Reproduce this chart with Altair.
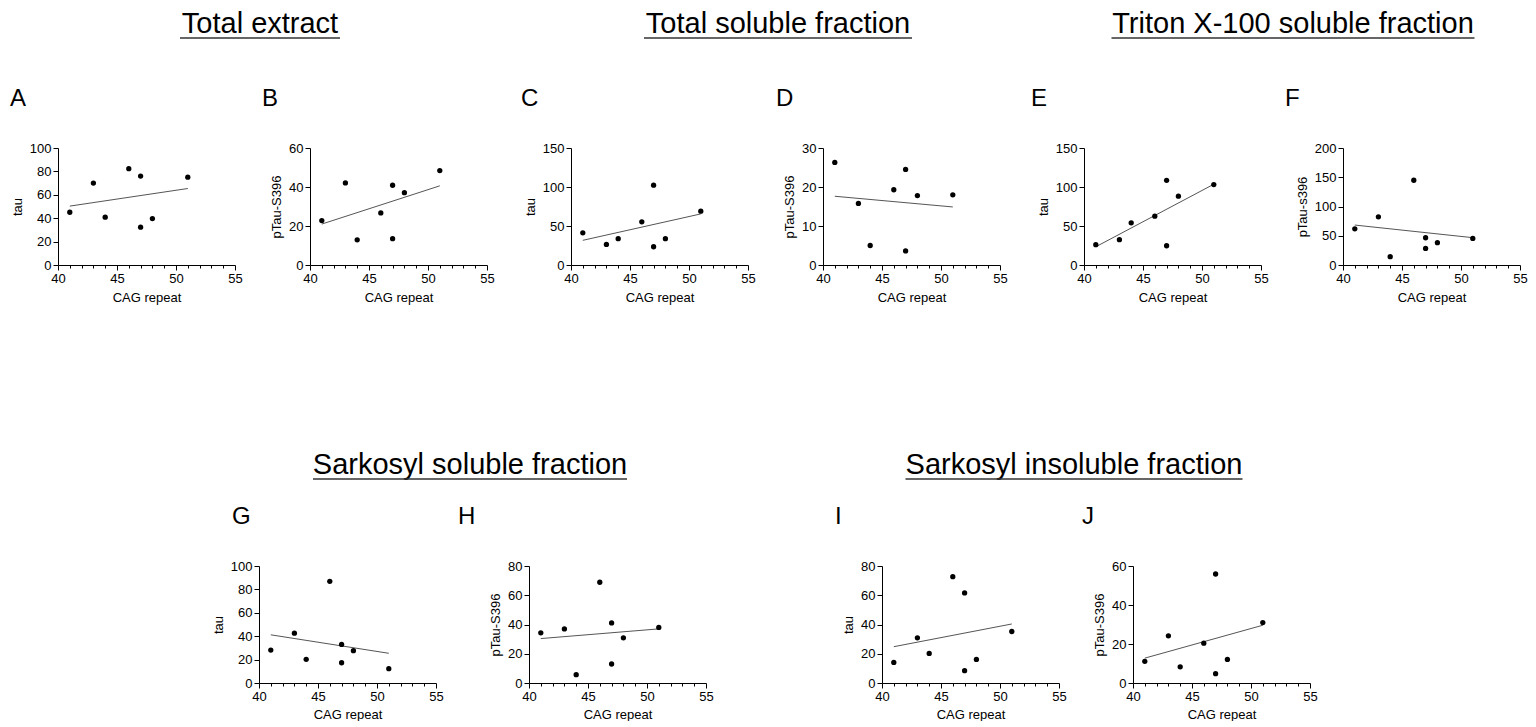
import altair as alt
import pandas as pd

# ---------------- data ----------------
cag = [41, 43, 44, 46, 47, 47, 48, 51]

a_tau = [45.1, 70.0, 40.9, 82.3, 76.0, 32.3, 39.7, 75.1]
b_ptau = [22.8, 42.1, 12.9, 26.7, 40.9, 13.5, 37.1, 48.4]
c_tau = [41.3, 26.4, 33.7, 55.4, 102.3, 23.4, 33.7, 69.0]
d_ptau = [26.3, 15.8, 5.0, 19.3, 24.5, 3.6, 17.8, 18.0]
e_tau = [26.0, 32.4, 54.1, 62.6, 108.6, 24.7, 88.2, 103.1]
f_ptau = [61.9, 82.4, 14.2, 144.9, 46.6, 28.4, 38.1, 45.5]
g_tau = [28.1, 42.6, 20.2, 86.9, 33.0, 17.3, 27.6, 12.2]
h_ptau = [34.3, 37.0, 5.7, 68.9, 41.1, 13.0, 30.9, 38.0]
i_tau = [14.1, 30.9, 20.2, 72.7, 61.6, 8.4, 16.1, 35.2]
j_ptau = [11.1, 24.2, 8.3, 20.4, 55.9, 4.8, 12.1, 31.0]

panel_letters = ["A", "B", "C", "D", "E", "F", "G", "H", "I", "J"]
panel_values = [a_tau, b_ptau, c_tau, d_ptau, e_tau, f_ptau, g_tau, h_ptau, i_tau, j_ptau]
y_titles = ["tau", "pTau-S396", "tau", "pTau-S396", "tau", "pTau-s396",
            "tau", "pTau-S396", "tau", "pTau-S396"]
y_ticks = [
    [0, 20, 40, 60, 80, 100],
    [0, 20, 40, 60],
    [0, 50, 100, 150],
    [0, 10, 20, 30],
    [0, 50, 100, 150],
    [0, 50, 100, 150, 200],
    [0, 20, 40, 60, 80, 100],
    [0, 20, 40, 60, 80],
    [0, 20, 40, 60, 80],
    [0, 20, 40, 60],
]
x_ticks = [40, 45, 50, 55]
x_minor = [41, 42, 43, 44, 46, 47, 48, 49, 51, 52, 53, 54]
x_title = "CAG repeat"

row1_titles = ["Total extract", "Total soluble fraction", "Triton X-100 soluble fraction"]
row2_titles = ["Sarkosyl soluble fraction", "Sarkosyl insoluble fraction"]

# ---------------- layout / style ----------------
FONT = "Liberation Sans, Arial, sans-serif"
PW, PH = 177, 117
letter_dx = [-48, -48, -50, -47, -53, -58, -27, -71, -47, -51]
row1_gaps = [75, 84, 75, 84, 82]
row2_lead = 201
row2_gaps = [93, 176, 74]
ROW_W = 1420
# header text centres (relative to the first plot's left edge) and underline widths
row1_cx = [202, 720, 1235]
row1_uw = [160, 268, 363]
row2_cx = [412, 1016]
row2_uw = [314, 337]
HEAD_H = 40
HEAD_BASE = 33
HEAD_UL = 38
HEAD_SIZE = 29


def panel(i, bottom_row=False):
    df = pd.DataFrame({"cag": cag, "val": panel_values[i]})
    base = alt.Chart(df)
    xs = alt.Scale(domain=[40, 55], nice=False, zero=False)
    ys = alt.Scale(domain=[0, y_ticks[i][-1]], nice=False)
    x_main = alt.X("cag:Q", scale=xs,
                   axis=alt.Axis(values=x_ticks, title=x_title, format="d", orient="bottom",
                                 tickSize=5, labelPadding=2,
                                 titlePadding=5 if bottom_row else 6))
    x_none = alt.X("cag:Q", scale=xs, axis=None)
    x_min = alt.X("cag:Q", scale=xs,
                  axis=alt.Axis(values=x_minor, labels=False, domain=False,
                                tickSize=3, title=None, orient="bottom"))
    y = alt.Y("val:Q", scale=ys,
              axis=alt.Axis(values=y_ticks[i], title=y_titles[i], format="d",
                            tickSize=5, labelPadding=2, titlePadding=5))
    pts = base.mark_circle(size=28, color="black", opacity=1).encode(x=x_main, y=y)
    fit = base.transform_regression("cag", "val").mark_line(
        color="#555555", strokeWidth=1).encode(x=x_none, y=y)
    minor = base.mark_point(opacity=0).encode(x=x_min, y=y)
    return alt.layer(minor, fit, pts).resolve_axis(x="independent").properties(
        width=PW, height=PH,
        title=alt.Title(panel_letters[i], anchor="start", frame="group",
                        dx=letter_dx[i], offset=31, fontSize=24,
                        font=FONT, fontWeight="normal", color="black"))


def spacer(w):
    return alt.Chart(pd.DataFrame({"a": [0]})).mark_point(opacity=0).encode(
        x=alt.X("a:Q", axis=None), y=alt.Y("a:Q", axis=None)).properties(width=w, height=1)


def header(titles, cxs, uws):
    layers = []
    for t, cx, uw in zip(titles, cxs, uws):
        df = pd.DataFrame({"t": [t]})
        layers.append(alt.Chart(df).mark_text(
            font=FONT, fontSize=HEAD_SIZE, align="center", baseline="alphabetic",
            color="black").encode(text="t:N", x=alt.value(cx), y=alt.value(HEAD_BASE)))
        layers.append(alt.Chart(df).mark_rule(color="#333333", strokeWidth=1.5).encode(
            x=alt.value(cx - uw / 2), x2=alt.value(cx + uw / 2), y=alt.value(HEAD_UL)))
    return alt.layer(*layers).properties(width=ROW_W, height=HEAD_H)


items1 = [panel(0)]
for k in range(1, 6):
    items1 += [spacer(row1_gaps[k - 1]), panel(k)]
row1 = alt.hconcat(*items1, spacing=0, bounds="flush")

items2 = [spacer(row2_lead), panel(6, True)]
for k in range(7, 10):
    items2 += [spacer(row2_gaps[k - 7]), panel(k, True)]
row2 = alt.hconcat(*items2, spacing=0, bounds="flush")

block1 = alt.vconcat(header(row1_titles, row1_cx, row1_uw), row1, spacing=47)
block2 = alt.vconcat(header(row2_titles, row2_cx, row2_uw), row2, spacing=24)

chart = alt.vconcat(block1, block2, spacing=137).properties(
    padding={"left": 10, "top": 0, "right": 0, "bottom": 0},
    background="white"
).configure_view(strokeWidth=0).configure_axis(
    labelFont=FONT, titleFont=FONT, labelFontSize=13, titleFontSize=13,
    titleFontWeight="normal", labelColor="black", titleColor="black",
    domainColor="black", tickColor="black", domainWidth=1, tickWidth=1, grid=False,
    labelFlush=False
)

chart.save("out.html", embed_options={"renderer": "svg", "actions": False})
